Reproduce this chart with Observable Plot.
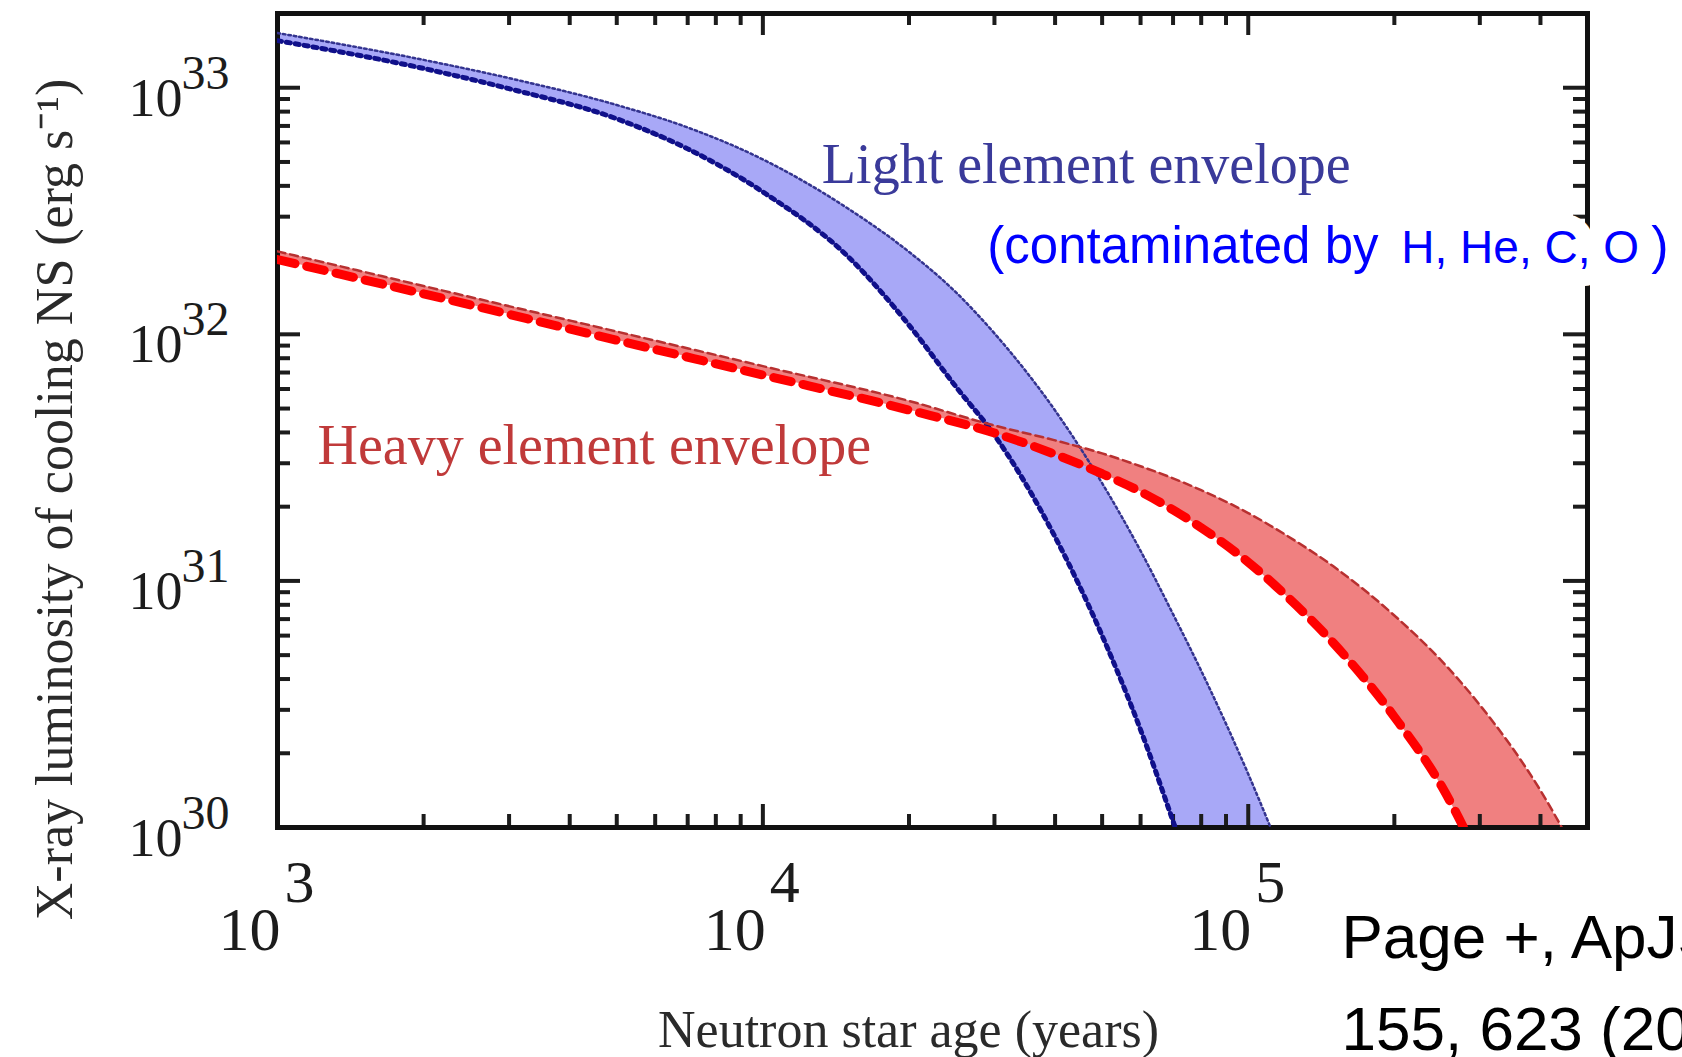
<!DOCTYPE html>
<html>
<head>
<meta charset="utf-8">
<script src="https://cdn.jsdelivr.net/npm/d3@7"></script>
<script src="https://cdn.jsdelivr.net/npm/@observablehq/plot@0.6"></script>
<style>
  html, body { margin: 0; padding: 0; background: #fff; overflow: hidden; }
  #chart { width: 1682px; height: 1057px; }
</style>
</head>
<body>
<div id="chart"></div>
<script>
// ---- Light element envelope band (blue), luminosity in erg/s ----
const lightAges  = [1e3, 2e3, 3e3, 5e3, 7e3, 1e4, 1.5e4, 2e4, 2.5e4, 3e4, 4e4, 5e4, 6e4, 7e4, 8e4, 1e5, 1.2e5];
const lightUpper = [1.667e33, 1.297e33, 1.094e33, 8.51e32, 6.90e32, 5.12e32, 3.23e32, 2.16e32, 1.479e32, 1.009e32, 4.91e31, 2.49e31, 1.324e31, 7.33e30, 4.32e30, 1.648e30, 6.9e29];
const lightLower = [1.552e33, 1.197e33, 9.91e32, 7.48e32, 5.65e32, 3.78e32, 2.06e32, 1.09e32, 6.12e31, 3.90e31, 1.507e31, 6.0e30, 2.49e30, 1.06e30, 4.91e29, 1.2e29, 3.2e28];

// ---- Heavy element envelope band (red) ----
const heavyAges  = [1e3, 2e3, 5e3, 1e4, 2e4, 3e4, 4e4, 5e4, 6e4, 7e4, 8e4, 1e5, 1.2e5, 1.5e5, 2e5, 2.5e5, 3e5, 4e5, 5e5];
const heavyUpper = [2.17e32, 1.57e32, 1.026e32, 7.43e31, 5.37e31, 4.266e31, 3.715e31, 3.289e31, 2.917e31, 2.606e31, 2.333e31, 1.884e31, 1.528e31, 1.143e31, 7.24e30, 4.75e30, 3.14e30, 1.413e30, 6.38e29];
const heavyLower = [2.01e32, 1.46e32, 9.46e31, 6.84e31, 4.93e31, 3.98e31, 3.26e31, 2.72e31, 2.30e31, 1.94e31, 1.644e31, 1.191e31, 8.67e30, 5.58e30, 2.81e30, 1.476e30, 7.33e29, 2.0e29, 6.3e28];

// ---- Ticks ----
const xMajorTicks = [1e3, 1e4, 1e5];
const xExponents  = ["3", "4", "5"];
const xMinorTicks = [2e3, 3e3, 4e3, 5e3, 6e3, 7e3, 8e3, 9e3, 2e4, 3e4, 4e4, 5e4, 6e4, 7e4, 8e4, 9e4, 2e5, 3e5, 4e5];
const yMajorTicks = [1e30, 1e31, 1e32, 1e33];
const yExponents  = ["30", "31", "32", "33"];
const yMinorTicks = [2e30, 3e30, 4e30, 5e30, 6e30, 7e30, 8e30, 9e30, 2e31, 3e31, 4e31, 5e31, 6e31, 7e31, 8e31, 9e31, 2e32, 3e32, 4e32, 5e32, 6e32, 7e32, 8e32, 9e32];

// ---- Texts ----
const xLabel = "Neutron star age (years)";
const yLabel = "X-ray luminosity of cooling NS (erg s\u207B\u00B9)";
const lightLabel = {text: "Light element envelope", age: 13230, lum: 4.12e32};
const heavyLabel = {text: "Heavy element envelope", age: 1209, lum: 2.99e31};
const contamination = {age: 29000, lum: 1.95e32, parts: ["(contaminated by", "H, He, C, O", ")"]};
const caption = "Page +, ApJS\n155, 623 (2004)";

const light = lightAges.map((t, i) => ({t, hi: lightUpper[i], lo: lightLower[i]}));
const heavy = heavyAges.map((t, i) => ({t, hi: heavyUpper[i], lo: heavyLower[i]}));

const W = 1682, H = 1057, ML = 277, MR = 95, MT = 13, MB = 230;
const innerH = H - MT - MB;
const innerW = W - ML - MR;
const serif = "'Liberation Serif', 'Times New Roman', serif";
const sans = "'Liberation Sans', Arial, Helvetica, sans-serif";
const ink = "#1c1c1c";

const chart = Plot.plot({
  width: W, height: H,
  marginLeft: ML, marginRight: MR, marginTop: MT, marginBottom: MB,
  x: {type: "log", domain: [1e3, 5e5], axis: null},
  y: {type: "log", domain: [1e30, 2e33], axis: null},
  style: {background: "white", fontFamily: serif},
  marks: [
    // bands
    Plot.areaY(light, {x: "t", y1: "lo", y2: "hi", fill: "#a8a8f7", curve: "monotone-x", clip: true}),
    Plot.areaY(heavy, {x: "t", y1: "lo", y2: "hi", fill: "#f08080", curve: "monotone-x", clip: true}),
    // inner ticks: bottom
    Plot.tickX(xMinorTicks, {x: d => d, stroke: ink, strokeWidth: 4, insetTop: innerH - 13}),
    Plot.tickX(xMajorTicks, {x: d => d, stroke: ink, strokeWidth: 4, insetTop: innerH - 23}),
    // top
    Plot.tickX(xMinorTicks, {x: d => d, stroke: ink, strokeWidth: 4, insetBottom: innerH - 12}),
    Plot.tickX(xMajorTicks, {x: d => d, stroke: ink, strokeWidth: 4, insetBottom: innerH - 22}),
    // left
    Plot.tickY(yMinorTicks, {y: d => d, stroke: ink, strokeWidth: 4, insetRight: innerW - 13}),
    Plot.tickY(yMajorTicks, {y: d => d, stroke: ink, strokeWidth: 4, insetRight: innerW - 23}),
    // right
    Plot.tickY(yMinorTicks, {y: d => d, stroke: ink, strokeWidth: 4, insetLeft: innerW - 14}),
    Plot.tickY(yMajorTicks, {y: d => d, stroke: ink, strokeWidth: 4, insetLeft: innerW - 24}),
    Plot.frame({stroke: "#111", strokeWidth: 5}),
    // band boundaries
    Plot.line(light, {x: "t", y: "hi", stroke: "#34348f", strokeWidth: 2.5, strokeDasharray: "2.5,3", curve: "monotone-x", clip: true}),
    Plot.line(light, {x: "t", y: "lo", stroke: "#10108a", strokeWidth: 5, strokeDasharray: "4,5", curve: "monotone-x", clip: true}),
    Plot.line(heavy, {x: "t", y: "hi", stroke: "#b83030", strokeWidth: 2.5, strokeDasharray: "8,5", curve: "monotone-x", clip: true}),
    Plot.line(heavy, {x: "t", y: "lo", stroke: "#ff0000", strokeWidth: 9, strokeDasharray: "18,12", curve: "monotone-x", clip: true}),
    // tick labels x
    Plot.text(xMajorTicks, {x: d => d, text: () => "10", frameAnchor: "bottom", textAnchor: "end", lineAnchor: "bottom", dx: 3, dy: 122, fontSize: 62, fill: ink, fontFamily: serif}),
    Plot.text(xMajorTicks, {x: d => d, text: (d, i) => xExponents[i], frameAnchor: "bottom", textAnchor: "start", lineAnchor: "bottom", dx: 7, dy: 74, fontSize: 60, fill: ink, fontFamily: serif}),
    // tick labels y
    Plot.text(yMajorTicks, {y: d => d, text: () => "10", frameAnchor: "left", textAnchor: "end", lineAnchor: "bottom", dx: -95, dy: 28, fontSize: 54, fill: ink, fontFamily: serif}),
    Plot.text(yMajorTicks, {y: d => d, text: (d, i) => yExponents[i], frameAnchor: "left", textAnchor: "start", lineAnchor: "bottom", dx: -96, dy: 1, fontSize: 48, fill: ink, fontFamily: serif}),
    // axis labels
    Plot.text([xLabel], {text: d => d, frameAnchor: "bottom", textAnchor: "middle", lineAnchor: "bottom", dx: -24, dy: 219, fontSize: 52, fill: "#2a2a2a", fontFamily: serif}),
    Plot.text([yLabel], {text: d => d, frameAnchor: "left", textAnchor: "middle", rotate: -90, lineAnchor: "bottom", dx: -206, dy: 79, fontSize: 52, fill: "#2a2a2a", fontFamily: serif}),
    // curve labels
    Plot.text([lightLabel], {x: "age", y: "lum", text: "text", textAnchor: "start", lineAnchor: "bottom", fontSize: 56, fill: "#3a3a9a", fontFamily: serif}),
    Plot.text([heavyLabel], {x: "age", y: "lum", text: "text", textAnchor: "start", lineAnchor: "bottom", fontSize: 56, fill: "#c03a3a", fontFamily: serif}),
    Plot.text([contamination], {x: "age", y: "lum", text: d => d.parts[0], textAnchor: "start", lineAnchor: "bottom", fontSize: 51, fill: "#0000ff", stroke: "white", strokeWidth: 34, fontFamily: sans}),
    Plot.text([contamination], {x: "age", y: "lum", text: d => d.parts[1], textAnchor: "start", lineAnchor: "bottom", dx: 414, fontSize: 46, fill: "#0000ff", stroke: "white", strokeWidth: 34, fontFamily: sans}),
    Plot.text([contamination], {x: "age", y: "lum", text: d => d.parts[2], textAnchor: "start", lineAnchor: "bottom", dx: 664, fontSize: 52, fill: "#0000ff", stroke: "white", strokeWidth: 34, fontFamily: sans}),
    // citation
    Plot.text([caption], {text: d => d, frameAnchor: "bottom-right", textAnchor: "start", lineAnchor: "bottom", dx: -246, dy: 222, fontSize: 62, lineHeight: 1.48, fill: "#000", fontFamily: sans})
  ]
});
document.getElementById("chart").appendChild(chart);
</script>
</body>
</html>
